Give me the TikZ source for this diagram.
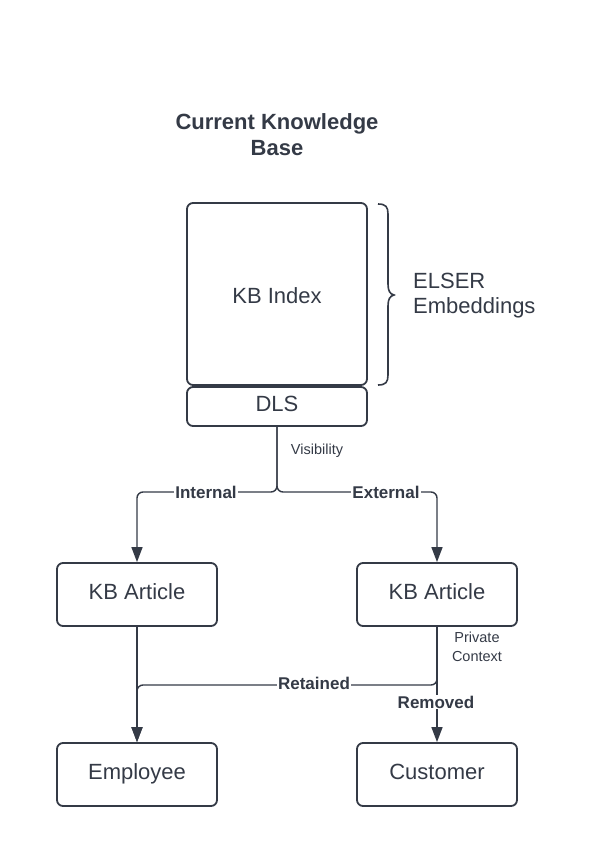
\documentclass[tikz,border=0pt]{standalone}
\usepackage{fontspec}
\setmainfont{Liberation Sans}
\usetikzlibrary{arrows.meta}
\definecolor{ink}{RGB}{52,58,70}
\tikzset{
  box/.style={draw=ink, line width=1.8pt, rounded corners=6pt, inner sep=0pt, text=ink,
    font=\fontsize{22}{26}\selectfont, text depth=6pt},
  conn/.style={draw=ink, line width=1.4pt, rounded corners=6pt},
  arr/.style={-{Triangle[length=15pt,width=11pt]}},
  lab/.style={text=ink, font=\bfseries\fontsize{17}{20}\selectfont, fill=white, inner sep=1pt},
  small/.style={text=ink, font=\fontsize{14.5}{19}\selectfont, align=center, inner sep=0pt},
  big/.style={text=ink, font=\fontsize{22}{25}\selectfont, align=left, inner sep=0pt},
}
\begin{document}
\begin{tikzpicture}[x=1pt,y=-1pt]
\useasboundingbox (0,0) rectangle (596,867);
\node[text=ink, font=\bfseries\fontsize{22}{26}\selectfont, align=center] (title) at (277,135) {Current Knowledge\\Base};
\node[box, minimum width=180pt, minimum height=182pt, text depth=0pt] (kbi) at (277,294) {};
\node[text=ink, font=\fontsize{22}{26}\selectfont, inner sep=0pt] (kbit) at (277,296) {KB Index};
\node[box, minimum width=180pt, minimum height=39pt] (dls) at (277,406.5) {DLS};
\draw[draw=ink, line width=1.6pt] (378,204) .. controls (386,204) and (388,207) .. (388,214)
  -- (388,284) .. controls (388,291) and (390,294) .. (394,295)
  .. controls (390,296) and (388,299) .. (388,306)
  -- (388,375) .. controls (388,382) and (386,385) .. (378,385);
\node[big, anchor=west] (elser) at (413,295.5) {ELSER\\Embeddings};
\node[box, minimum width=160pt, minimum height=63pt] (ka1) at (137,594.5) {KB Article};
\node[box, minimum width=160pt, minimum height=63pt] (ka2) at (437,594.5) {KB Article};
\node[box, minimum width=160pt, minimum height=63pt] (emp) at (137,774.5) {Employee};
\node[box, minimum width=160pt, minimum height=63pt] (cus) at (437,774.5) {Customer};
\coordinate (split) at (277,492);
\draw[conn, arr] (dls.south) -- (split) -- (137,492) -- (ka1.north);
\draw[conn, arr] (dls.south) -- (split) -- (437,492) -- (ka2.north);
\draw[conn, arr] (ka1.south) -- (emp.north);
\draw[conn, arr] (ka2.south) -- (437,685) -- (137,685) -- (emp.north);
\draw[conn, arr] (ka2.south) -- (cus.north);
\node[small] (vis) at (317,451) {Visibility};
\node[small] (priv) at (477,647) {Private\\Context};
\node[lab] (int) at (206,492) {Internal};
\node[lab] (ext) at (386,492) {External};
\node[lab] (ret) at (314,683) {Retained};
\node[lab] (rem) at (436,702) {Removed};
\end{tikzpicture}
\end{document}
